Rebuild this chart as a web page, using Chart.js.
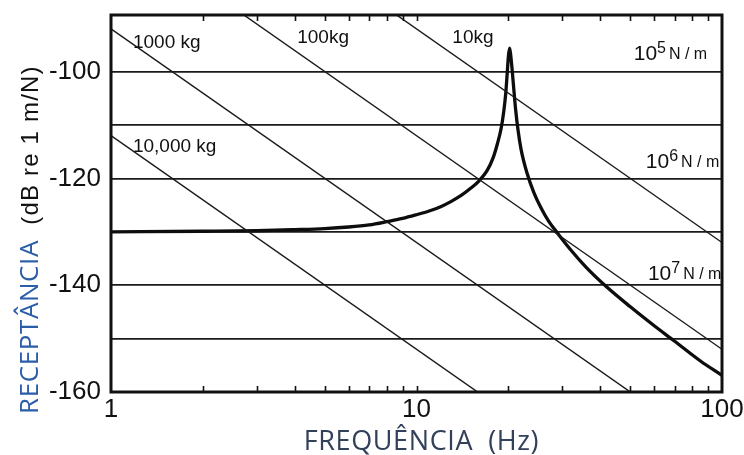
<!DOCTYPE html>
<html>
<head>
<meta charset="utf-8">
<script src="https://cdn.jsdelivr.net/npm/chart.js@4/dist/chart.umd.min.js"></script>
<style>
  html, body { margin: 0; padding: 0; background: #ffffff; }
  #wrap { position: relative; width: 744px; height: 455px; }
</style>
</head>
<body>
<div id="wrap"><canvas id="chart"></canvas></div>
<script>
// Axis ticks
const frequencyTicks = [1, 10, 100];
const minorFrequencies = [2, 3, 4, 5, 6, 7, 8, 9, 10, 20, 30, 40, 50, 60, 70, 80, 90];
const receptanceGrid = [-160, -150, -140, -130, -120, -110, -100];
const receptanceLabels = [-160, -140, -120, -100];

// Mass lines (receptance of a pure mass, dB re 1 m/N) at 1 Hz and 100 Hz
const massLineFreq = [1, 100];
const mass10000kg = [-112, -192];
const mass1000kg = [-92, -172];
const mass100kg = [-72, -152];
const mass10kg = [-52, -132];
const massNames = ['10,000 kg', '1000 kg', '100kg', '10kg'];

// Stiffness levels named on the right
const stiffnessExponents = ['5', '6', '7'];

// Receptance of the single-degree-of-freedom system
const responseFreq = [1, 2, 3, 4, 5, 6, 7, 8, 9, 10, 11, 12, 13, 14, 15, 16, 17, 17.8, 18.4, 18.9, 19.3, 19.6, 19.8, 20.0, 20.18,
  20.35, 20.55, 20.8, 21.1, 21.5, 22.0, 23.0, 24.2, 25.5, 27, 29, 32, 36, 41.7, 50, 60, 70, 85, 100];
const responseDb = [-130, -129.9, -129.8, -129.6, -129.4, -129.1, -128.7, -128.1, -127.5, -126.8, -126.1, -125.3, -124.3, -123.2, -121.9, -120.5, -118.6, -116.2, -113.5, -110.8, -107.5, -104, -100.5, -97, -95.6,
  -97, -99.5, -103, -107, -111, -114.6, -119, -122.6, -125.4, -127.9, -130.3, -133.4, -136.7, -140.2, -144, -147.6, -150.5, -154.2, -156.9];

const toPoints = (xs, ys) => xs.map((x, i) => ({ x, y: ys[i] }));

const thinLine = (data) => ({
  data: toPoints(massLineFreq, data),
  borderColor: '#1a1a1a',
  borderWidth: 1.4,
  pointRadius: 0,
  tension: 0,
  fill: false
});

// Text placed inside the plot, anchored in data units (Hz, dB)
const massLabelAnchors = [[1.18, -115.0], [1.18, -95.6], [4.07, -94.7], [13.1, -94.7]];
const stiffnessAnchors = [[51.4, -97.8], [56.3, -118.0], [57.2, -139.0]];

const decorations = {
  id: 'decorations',
  afterDatasetsDraw(chart) {
    const { ctx, chartArea: a, scales: { x, y } } = chart;
    ctx.save();
    // minor log ticks, pointing inward on top and bottom
    ctx.strokeStyle = '#111';
    ctx.lineWidth = 1.6;
    minorFrequencies.forEach(f => {
      const px = Math.round(x.getPixelForValue(f)) + 0.5;
      ctx.beginPath();
      ctx.moveTo(px, a.top); ctx.lineTo(px, a.top + 6);
      ctx.moveTo(px, a.bottom); ctx.lineTo(px, a.bottom - 6);
      ctx.stroke();
    });
    // plot frame
    ctx.lineWidth = 3;
    ctx.strokeRect(a.left, a.top, a.right - a.left, a.bottom - a.top);

    // mass labels
    ctx.fillStyle = '#111';
    ctx.textBaseline = 'alphabetic';
    ctx.textAlign = 'left';
    ctx.font = '19px "Liberation Sans", Arial, sans-serif';
    massNames.forEach((t, i) => {
      const [f, v] = massLabelAnchors[i];
      ctx.fillText(t, x.getPixelForValue(f), y.getPixelForValue(v));
    });

    // stiffness labels: 10^n N/m
    stiffnessExponents.forEach((e, i) => {
      const [f, v] = stiffnessAnchors[i];
      let px = x.getPixelForValue(f);
      const py = y.getPixelForValue(v);
      ctx.font = '21px "Liberation Sans", Arial, sans-serif';
      ctx.fillText('10', px, py);
      px += ctx.measureText('10').width;
      ctx.font = '16px "Liberation Sans", Arial, sans-serif';
      ctx.fillText(e, px, py - 7);
      px += ctx.measureText(e).width + 3;
      ctx.font = '16px "Liberation Sans", Arial, sans-serif';
      ctx.fillText('N / m', px, py - 1);
    });
    ctx.restore();
  },
  afterDraw(chart) {
    const { ctx, chartArea: a } = chart;
    ctx.save();
    if ('letterSpacing' in ctx) ctx.letterSpacing = '0.6px';
    // x axis title
    ctx.font = '27px "Open Sans", "Noto Sans", sans-serif';
    ctx.fillStyle = '#33405a';
    ctx.textAlign = 'center';
    ctx.textBaseline = 'alphabetic';
    ctx.fillText('FREQUÊNCIA  (Hz)', (a.left + a.right) / 2 + 5, 450);

    // y axis title, two parts
    ctx.translate(38, 0);
    ctx.rotate(-Math.PI / 2);
    ctx.font = '26px "Open Sans", "Noto Sans", sans-serif';
    ctx.fillStyle = '#2b5da8';
    ctx.fillText('RECEPTÂNCIA', -327, 0);
    ctx.font = '24px "Liberation Sans", Arial, sans-serif';
    ctx.fillStyle = '#111';
    if ('letterSpacing' in ctx) ctx.letterSpacing = '1.2px';
    ctx.fillText('(dB re 1 m/N)', -145, 0);
    ctx.restore();
  }
};

new Chart(document.getElementById('chart'), {
  type: 'line',
  data: {
    datasets: [
      thinLine(mass10000kg),
      thinLine(mass1000kg),
      thinLine(mass100kg),
      thinLine(mass10kg),
      {
        data: toPoints(responseFreq, responseDb),
        borderColor: '#0d0d0d',
        borderWidth: 3.3,
        pointRadius: 0,
        cubicInterpolationMode: 'monotone',
        borderJoinStyle: 'round',
        borderCapStyle: 'round',
        fill: false
      }
    ]
  },
  options: {
    responsive: true,
    maintainAspectRatio: false,
    animation: false,
    events: [],
    layout: { padding: { top: 15, right: 22, left: 0, bottom: 0 } },
    plugins: { legend: { display: false }, tooltip: { enabled: false } },
    scales: {
      x: {
        type: 'logarithmic',
        min: 1,
        max: 100,
        afterBuildTicks: (s) => { s.ticks = frequencyTicks.map(v => ({ value: v })); },
        afterFit: (s) => { s.height = 63; s.paddingLeft = 0; s.paddingRight = 0; },
        grid: { display: false, drawTicks: false },
        border: { display: false },
        ticks: {
          autoSkip: false,
          maxRotation: 0,
          padding: 2,
          color: '#111',
          font: { family: '"Liberation Sans Narrow", "Liberation Sans", sans-serif', size: 26 },
          callback: (v) => String(v)
        }
      },
      y: {
        type: 'linear',
        min: -160,
        max: -89.4,
        afterBuildTicks: (s) => { s.ticks = receptanceGrid.map(v => ({ value: v })); },
        afterFit: (s) => { s.width = 111; s.paddingTop = 0; s.paddingBottom = 0; },
        grid: { color: '#1a1a1a', lineWidth: 1.8, drawTicks: false },
        border: { display: false },
        ticks: {
          padding: 10,
          color: '#111',
          font: { family: '"Liberation Sans Narrow", "Liberation Sans", sans-serif', size: 26 },
          callback: (v) => receptanceLabels.includes(v) ? String(v) : ''
        }
      }
    }
  },
  plugins: [decorations]
});
</script>
</body>
</html>
